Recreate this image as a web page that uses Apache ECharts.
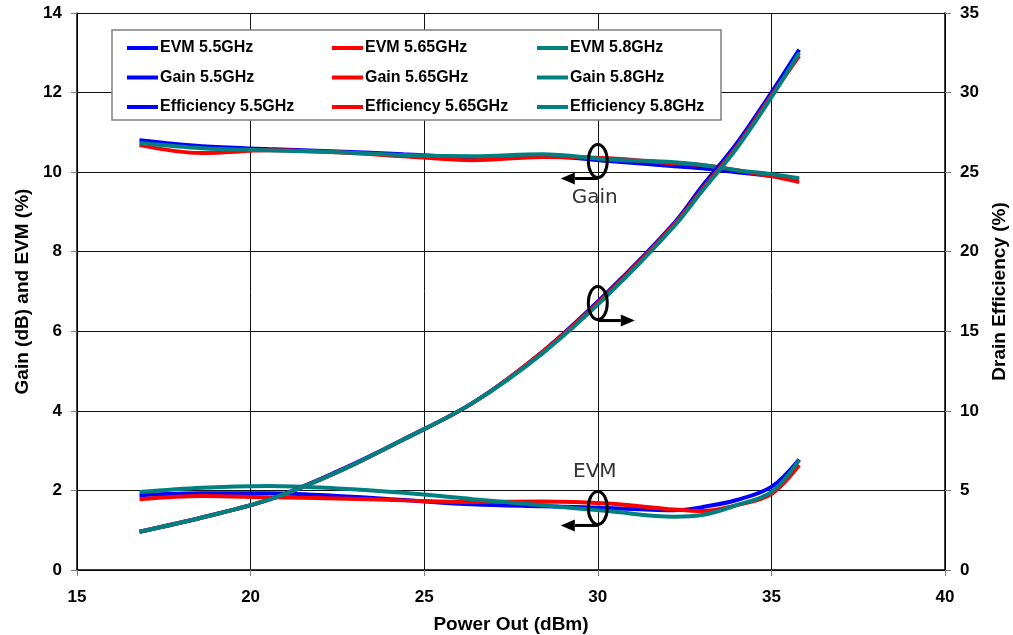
<!DOCTYPE html>
<html><head><meta charset="utf-8">
<script src="https://cdn.jsdelivr.net/npm/echarts@6/dist/echarts.min.js"></script>
<style>html,body{margin:0;padding:0;background:#fff}#c{width:1013px;height:635px}</style>
</head><body><div id="c"></div>
<script>
const powerOut = [16.8, 18.6, 20.5, 22.5, 24.4, 26.4, 28.4, 30.3, 32.2, 33.0, 34.0, 35.0, 35.8];
const evm55  = [1.88,1.93,1.93,1.86,1.76,1.65,1.60,1.56,1.50,1.58,1.76,2.09,2.78];
const evm565 = [1.78,1.86,1.83,1.80,1.75,1.71,1.72,1.67,1.52,1.48,1.63,1.91,2.64];
const evm58  = [1.96,2.07,2.11,2.05,1.94,1.78,1.63,1.48,1.34,1.38,1.63,1.96,2.76];
const gain55  = [10.80,10.65,10.58,10.52,10.45,10.38,10.40,10.28,10.15,10.10,10.00,9.90,9.82];
const gain565 = [10.68,10.48,10.55,10.50,10.40,10.30,10.38,10.35,10.22,10.18,10.05,9.90,9.75];
const gain58  = [10.73,10.60,10.55,10.50,10.43,10.40,10.45,10.32,10.25,10.18,10.05,9.95,9.85];
const eff55  = [2.4,3.3,4.4,6.2,8.2,10.5,13.7,17.5,21.8,24.1,26.8,30.0,32.7];
const eff565 = [2.4,3.3,4.4,6.15,8.2,10.5,13.7,17.4,21.7,23.9,26.6,29.8,32.3];
const eff58  = [2.4,3.3,4.4,6.15,8.2,10.5,13.6,17.3,21.6,23.8,26.5,29.7,32.5];
const seriesNames = [
  ['EVM 5.5GHz','Gain 5.5GHz','Efficiency 5.5GHz'],
  ['EVM 5.65GHz','Gain 5.65GHz','Efficiency 5.65GHz'],
  ['EVM 5.8GHz','Gain 5.8GHz','Efficiency 5.8GHz']
];
const colors = ['#0000FF','#FF0000','#008080'];
const annotations = [
  {label:'Gain', x:30, y:10.28, dir:-1, axis:0},
  {label:'', x:30, y:6.71, dir:1, axis:0},
  {label:'EVM', x:30, y:1.56, dir:-1, axis:0}
];

const dataSets = [[evm55,gain55,eff55],[evm565,gain565,eff565],[evm58,gain58,eff58]];
const pair = arr => arr.map((v,i)=>[powerOut[i], v]);

const series = [];
for (let k=0;k<3;k++){ // type: EVM, Gain, Eff
  for (let f=0;f<3;f++){
    series.push({
      name: seriesNames[f][k], type:'line', yAxisIndex: k===2?1:0,
      data: pair(dataSets[f][k]), showSymbol:false, smooth:0.35,
      lineStyle:{color:colors[f], width:4}, itemStyle:{color:colors[f]},
      emphasis:{disabled:true}
    });
  }
}
const font = 'Liberation Sans, Arial, sans-serif';
const legends = [0,1,2].map(f=>({
  orient:'vertical', left:122+205*f, top:35, itemGap:13.5,
  data: seriesNames[f], icon:'rect', itemWidth:31, itemHeight:4,
  textStyle:{fontFamily:font, fontWeight:'bold', fontSize:16, color:'#000', padding:[0,0,0,-3]},
  selectedMode:false
}));

const chart = echarts.init(document.getElementById('c'));
chart.setOption({
  animation:false,
  grid:{left:77, right:68, top:13, bottom:65, outerBoundsMode:'none', containLabel:false},
  legend: legends,
  xAxis:{type:'value', min:15, max:40, interval:5,
    name:'Power Out (dBm)', nameLocation:'middle', nameGap:45,
    nameTextStyle:{fontFamily:font, fontWeight:'bold', fontSize:19, color:'#000'},
    axisLine:{lineStyle:{color:'#000', width:1.5}},
    axisTick:{show:true, length:6, lineStyle:{color:'#808080'}},
    axisLabel:{fontFamily:font, fontWeight:'bold', fontSize:17, color:'#000', margin:19},
    splitLine:{show:true, lineStyle:{color:'#111', width:1}}
  },
  yAxis:[
    {type:'value', min:0, max:14, interval:2, position:'left',
     name:'Gain (dB) and EVM (%)', nameLocation:'middle', nameGap:45,
     nameTextStyle:{fontFamily:font, fontWeight:'bold', fontSize:19, color:'#000'},
     axisLine:{show:true, lineStyle:{color:'#000', width:1.5}},
     axisTick:{show:true, length:6, lineStyle:{color:'#808080'}},
     axisLabel:{fontFamily:font, fontWeight:'bold', fontSize:17, color:'#000', margin:15},
     splitLine:{show:true, lineStyle:{color:'#111', width:1}}
    },
    {type:'value', min:0, max:35, interval:5, position:'right',
     name:'Drain Efficiency (%)', nameLocation:'middle', nameGap:45,
     nameTextStyle:{fontFamily:font, fontWeight:'bold', fontSize:19, color:'#000'},
     axisLine:{show:true, lineStyle:{color:'#000', width:1.5}},
     axisTick:{show:true, length:6, lineStyle:{color:'#808080'}},
     axisLabel:{fontFamily:font, fontWeight:'bold', fontSize:17, color:'#000', margin:15},
     splitLine:{show:false}
    }
  ],
  series: series
});

// annotations anchored to data coordinates
const els = [{
  type:'rect', z:3, shape:{x:112, y:30, width:609, height:90},
  style:{fill:'#fff', stroke:'#808080', lineWidth:1.5}, silent:true
}];
annotations.forEach(a=>{
  const p = chart.convertToPixel({xAxisIndex:0, yAxisIndex:a.axis}, [a.x, a.y]);
  const cx = p[0], cy = p[1];
  els.push({type:'ellipse', z:10, shape:{cx:cx, cy:cy, rx:9.5, ry:16.5},
    style:{fill:null, stroke:'#000', lineWidth:3}, silent:true});
  const ay = cy + 17.5;
  const tip = cx + a.dir*37, base = cx + a.dir*23;
  els.push({type:'line', z:10, shape:{x1:cx, y1:ay, x2:base, y2:ay},
    style:{stroke:'#000', lineWidth:3}, silent:true});
  els.push({type:'polygon', z:10, shape:{points:[[tip,ay],[base,ay-6],[base,ay+6]]},
    style:{fill:'#000'}, silent:true});
  if (a.label==='Gain'){
    els.push({type:'text', z:10, x:cx-3, y:ay+19, style:{text:a.label, fontFamily:'DejaVu Sans', fontSize:20,
      fill:'#333', align:'center', verticalAlign:'middle'}, silent:true});
  } else if (a.label==='EVM'){
    els.push({type:'text', z:10, x:cx-3, y:cy-36, style:{text:a.label, fontFamily:'DejaVu Sans', fontSize:20,
      fill:'#333', align:'center', verticalAlign:'middle'}, silent:true});
  }
});
chart.setOption({graphic:{elements:els}});
</script></body></html>
